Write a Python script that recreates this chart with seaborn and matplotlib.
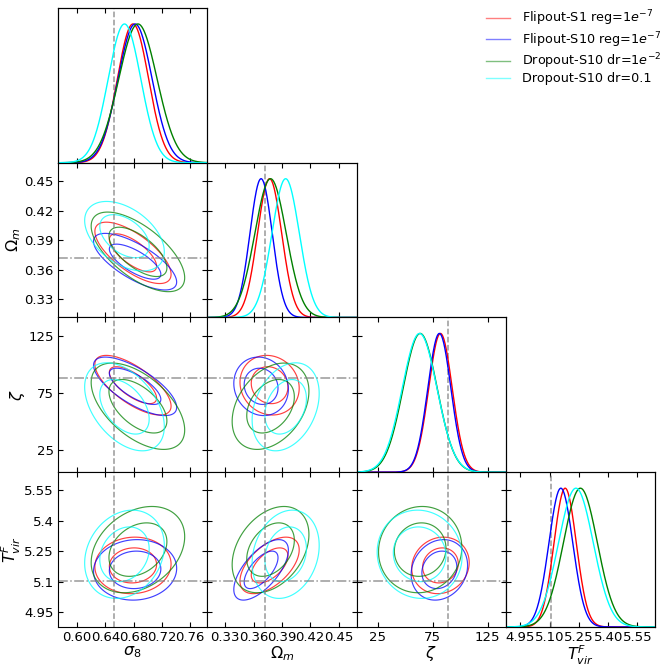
import numpy as np
import matplotlib
matplotlib.use('Agg')
import matplotlib.pyplot as plt
from matplotlib.lines import Line2D
import seaborn as sns

plt.style.use('default')
plt.rcParams['font.family'] = ['DejaVu Sans']
plt.rcParams['mathtext.fontset'] = 'dejavusans'

# Parameters: sigma_8, Omega_m, zeta, T_vir
param_labels = [r'$\sigma_8$', r'$\Omega_m$', r'$\zeta$', r'$T_{vir}^F$']
truth = [0.652, 0.372, 88.5, 5.105]
limits = [(0.573, 0.784), (0.311, 0.469), (5.5, 141.5), (4.876, 5.640)]
ticks = [[0.60, 0.64, 0.68, 0.72, 0.76],
         [0.33, 0.36, 0.39, 0.42, 0.45],
         [25, 75, 125],
         [4.95, 5.10, 5.25, 5.40, 5.55]]
xtick_labels = [['0.60', '0.64', '0.68', '0.72', '0.76'],
                ['0.33', '0.36', '0.39', '0.42', '0.45'],
                ['25', '75', '125'],
                ['4.95', '5.10', '5.25', '5.40', '5.55']]
ytick_labels = [['0.60', '0.64', '0.68', '0.72', '0.76'],
                ['0.33', '0.36', '0.39', '0.42', '0.45'],
                ['25', '75', '125'],
                ['4.95', '5.1', '5.25', '5.4', '5.55']]

# Models
model_labels = [r'Flipout-S1 reg=1$e^{-7}$', r'Flipout-S10 reg=1$e^{-7}$',
                r'Dropout-S10 dr=1$e^{-2}$', 'Dropout-S10 dr=0.1']
model_colors = ['red', 'blue', 'green', 'cyan']

# posterior means (sigma8, Om, zeta, Tvir)
mean_flip_s1 = [0.679, 0.377, 82.0, 5.180]
mean_flip_s10 = [0.682, 0.368, 81.0, 5.158]
mean_drop_s10_1e2 = [0.686, 0.378, 63.5, 5.258]
mean_drop_s10_01 = [0.667, 0.394, 63.0, 5.235]

# posterior widths
sd_flip_s1 = [0.022, 0.0128, 10.7, 0.057]
sd_flip_s10 = [0.024, 0.0118, 10.5, 0.061]
sd_drop_s10_1e2 = [0.027, 0.0166, 15.5, 0.087]
sd_drop_s10_01 = [0.023, 0.0145, 15.8, 0.089]

# correlations, pair order: (s8,Om) (s8,zeta) (s8,T) (Om,zeta) (Om,T) (zeta,T)
rho_flip_s1 = [-0.70, -0.70, 0.05, -0.10, 0.55, 0.10]
rho_flip_s10 = [-0.72, -0.72, 0.05, -0.10, 0.65, 0.15]
rho_drop_s10_1e2 = [-0.65, -0.55, 0.30, 0.35, 0.35, 0.05]
rho_drop_s10_01 = [-0.45, -0.45, 0.20, 0.30, 0.20, -0.05]

means = [mean_flip_s1, mean_flip_s10, mean_drop_s10_1e2, mean_drop_s10_01]
sds = [sd_flip_s1, sd_flip_s10, sd_drop_s10_1e2, sd_drop_s10_01]
rhos = [rho_flip_s1, rho_flip_s10, rho_drop_s10_1e2, rho_drop_s10_01]
pairs = [(0, 1), (0, 2), (0, 3), (1, 2), (1, 3), (2, 3)]

n = len(param_labels)
fig, axes = plt.subplots(n, n, figsize=(6.65, 6.67), dpi=100)
fig.subplots_adjust(left=0.0872, right=0.985, top=0.988, bottom=0.06,
                    wspace=0, hspace=0)

levels = [2.30, 5.99]  # 68% / 95% in 2D
line_kw = dict(color='grey', lw=1.1, alpha=0.8)

for i in range(n):
    for j in range(n):
        ax = axes[i, j]
        if j > i:
            ax.remove()
            continue
        ax.set_xlim(limits[j])
        ax.set_ylim(limits[i])
        ax.tick_params(direction='in', top=True, right=True, length=3.5,
                       labelsize=9.5, pad=3)
        ax.set_xticks(ticks[j])
        ax.set_xticklabels(xtick_labels[j])
        if i == 0 and j == 0:
            ax.set_yticks([])
        else:
            ax.set_yticks(ticks[i])
            ax.set_yticklabels(ytick_labels[i])
        if i != n - 1:
            ax.tick_params(labelbottom=False)
        else:
            ax.set_xlabel(param_labels[j], fontsize=11.5, labelpad=0)
        if j != 0 or i == 0:
            ax.tick_params(labelleft=False)
        else:
            ax.set_ylabel(param_labels[i], fontsize=11.5, labelpad=1)

        if i == j:
            # 1D marginal on a twin axis
            tw = ax.twinx()
            tw.set_ylim(0, 1.115)
            tw.set_yticks([])
            x = np.linspace(limits[i][0], limits[i][1], 400)
            for m, s, c in zip(means, sds, model_colors):
                pdf = np.exp(-0.5 * ((x - m[i]) / s[i]) ** 2)
                sns.lineplot(x=x, y=pdf, ax=tw, color=c, lw=1.0,
                             sort=False, estimator=None)
            ax.axvline(truth[i], ls='--', **line_kw)
        else:
            # 2D contours
            k = pairs.index((j, i))
            gx = np.linspace(limits[j][0], limits[j][1], 250)
            gy = np.linspace(limits[i][0], limits[i][1], 250)
            X, Y = np.meshgrid(gx, gy)
            for m, s, r, c in zip(means, sds, rhos, model_colors):
                dx = (X - m[j]) / s[j]
                dy = (Y - m[i]) / s[i]
                rho = r[k]
                d2 = (dx ** 2 - 2 * rho * dx * dy + dy ** 2) / (1 - rho ** 2)
                ax.contour(X, Y, d2, levels=levels, colors=[c],
                           linewidths=0.85, alpha=0.75)
            ax.axvline(truth[j], ls='--', **line_kw)
            ax.axhline(truth[i], ls='-.', **line_kw)

handles = [Line2D([0], [0], color=c, lw=1.0, alpha=0.5) for c in model_colors]
fig.legend(handles, model_labels, loc='upper right',
           bbox_to_anchor=(1.012, 1.004), frameon=False, fontsize=9.2,
           handlelength=1.9, handletextpad=0.9, labelspacing=0.12)

fig.savefig('out.png', dpi=100)
